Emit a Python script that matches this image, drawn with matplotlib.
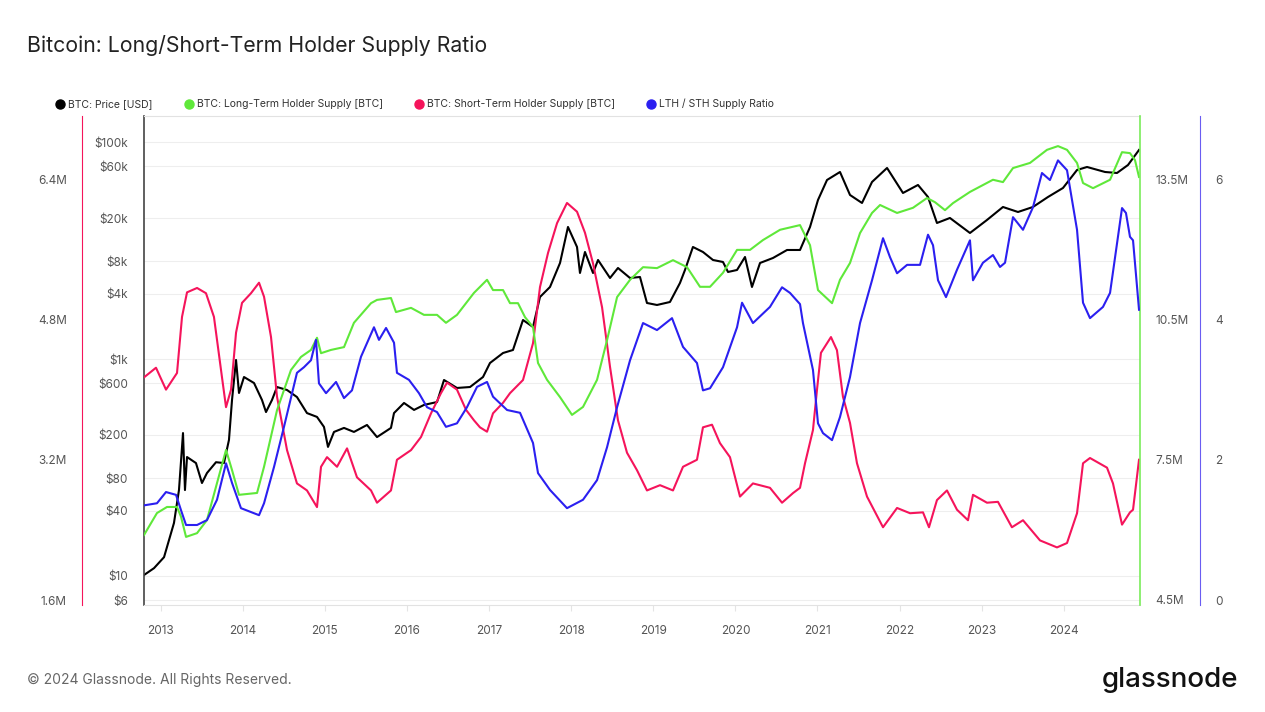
import matplotlib.pyplot as plt
from matplotlib.lines import Line2D

plt.rcParams['font.family'] = ['Inter', 'DejaVu Sans']

# data (decimal years)
price_years = [2012.797, 2012.919, 2013.041, 2013.162, 2013.223, 2013.272, 2013.296, 2013.321,
               2013.430, 2013.503, 2013.564, 2013.674, 2013.771, 2013.832, 2013.869, 2013.918,
               2013.954, 2014.015, 2014.137, 2014.234, 2014.283, 2014.356, 2014.417, 2014.539,
               2014.660, 2014.782, 2014.904, 2014.989, 2015.038, 2015.111, 2015.233, 2015.354,
               2015.513, 2015.635, 2015.805, 2015.842, 2015.964, 2016.086, 2016.207, 2016.366,
               2016.451, 2016.609, 2016.768, 2016.926, 2017.011, 2017.170, 2017.291, 2017.413,
               2017.535, 2017.620, 2017.742, 2017.864, 2017.961, 2018.071, 2018.107, 2018.168,
               2018.266, 2018.327, 2018.473, 2018.570, 2018.716, 2018.838, 2018.923, 2019.045,
               2019.203, 2019.325, 2019.386, 2019.483, 2019.605, 2019.727, 2019.849, 2019.910,
               2020.020, 2020.117, 2020.202, 2020.300, 2020.458, 2020.629, 2020.787, 2020.909,
               2021.006, 2021.116, 2021.274, 2021.396, 2021.542, 2021.664, 2021.847, 2022.041,
               2022.224, 2022.346, 2022.455, 2022.613, 2022.857, 2023.064, 2023.259, 2023.442,
               2023.624, 2023.807, 2023.990, 2024.161, 2024.283, 2024.502, 2024.648, 2024.782,
               2024.916]
price_usd = [10.2, 11.8, 14.9, 30.8, 62, 208, 62, 125,
             110, 72, 89, 112, 110, 180, 420, 982,
             487, 684, 602, 420, 325, 420, 553, 519,
             447, 318, 293, 237, 155, 213, 232, 213,
             247, 191, 232, 318, 394, 340, 378, 402,
             642, 542, 553, 684, 921, 1139, 1214, 2296,
             1979, 3742, 4629, 7706, 16557, 10825, 6230, 9732,
             6230, 8211, 5603, 6929, 5603, 5723, 3295, 3158,
             3365, 5040, 6641, 10825, 9732, 8211, 7870, 6366,
             6641, 8752, 4629, 7706, 8569, 10155, 10155, 16557,
             29375, 44920, 53230, 32660, 27560, 43050, 57970, 34080,
             40400, 31290, 18020, 20040, 14570, 19200, 25310, 22760,
             25310, 31290, 37900, 55540, 59190, 53230, 52120, 61770,
             84960]

lth_years = [2012.797, 2012.955, 2013.077, 2013.199, 2013.248, 2013.309, 2013.443, 2013.564,
             2013.686, 2013.796, 2013.869, 2013.954, 2014.174, 2014.259, 2014.417, 2014.587,
             2014.709, 2014.831, 2014.904, 2014.953, 2015.075, 2015.233, 2015.354, 2015.562,
             2015.635, 2015.805, 2015.866, 2016.049, 2016.207, 2016.366, 2016.475, 2016.609,
             2016.816, 2016.975, 2017.048, 2017.170, 2017.255, 2017.352, 2017.438, 2017.535,
             2017.596, 2017.706, 2017.864, 2018.010, 2018.144, 2018.315, 2018.437, 2018.559,
             2018.717, 2018.875, 2019.045, 2019.240, 2019.411, 2019.569, 2019.691, 2019.849,
             2020.020, 2020.178, 2020.336, 2020.544, 2020.787, 2020.909, 2021.006, 2021.177,
             2021.274, 2021.396, 2021.518, 2021.664, 2021.762, 2021.969, 2022.163, 2022.334,
             2022.431, 2022.553, 2022.650, 2022.857, 2023.137, 2023.259, 2023.381, 2023.588,
             2023.795, 2023.929, 2024.039, 2024.161, 2024.234, 2024.356, 2024.563, 2024.709,
             2024.806, 2024.867, 2024.916]
lth_supply = [5.89, 6.36, 6.49, 6.49, 6.28, 5.85, 5.93, 6.21,
              7.00, 7.71, 7.28, 6.75, 6.79, 7.35, 8.56, 9.42,
              9.70, 9.85, 10.11, 9.78, 9.85, 9.91, 10.43, 10.85,
              10.92, 10.96, 10.66, 10.75, 10.60, 10.60, 10.43, 10.60,
              11.07, 11.35, 11.13, 11.13, 10.85, 10.85, 10.55, 10.34,
              9.57, 9.21, 8.84, 8.46, 8.63, 9.21, 10.06, 10.98,
              11.35, 11.62, 11.60, 11.77, 11.62, 11.20, 11.20, 11.50,
              11.99, 11.99, 12.20, 12.42, 12.52, 12.09, 11.13, 10.85,
              11.35, 11.71, 12.35, 12.78, 12.95, 12.78, 12.89, 13.10,
              13.01, 12.84, 12.99, 13.23, 13.49, 13.44, 13.74, 13.85,
              14.13, 14.21, 14.13, 13.85, 13.42, 13.31, 13.49, 14.08,
              14.06, 13.91, 13.55]

sth_years = [2012.797, 2012.943, 2013.065, 2013.199, 2013.260, 2013.321, 2013.443, 2013.552,
             2013.649, 2013.747, 2013.796, 2013.857, 2013.918, 2013.991, 2014.100, 2014.198,
             2014.259, 2014.344, 2014.417, 2014.539, 2014.660, 2014.782, 2014.904, 2014.953,
             2015.026, 2015.148, 2015.270, 2015.391, 2015.562, 2015.635, 2015.805, 2015.878,
             2016.049, 2016.171, 2016.293, 2016.414, 2016.488, 2016.609, 2016.719, 2016.816,
             2016.889, 2016.975, 2017.048, 2017.170, 2017.255, 2017.413, 2017.535, 2017.620,
             2017.718, 2017.828, 2017.949, 2018.071, 2018.168, 2018.266, 2018.376, 2018.473,
             2018.570, 2018.680, 2018.802, 2018.923, 2019.082, 2019.240, 2019.362, 2019.532,
             2019.605, 2019.715, 2019.812, 2019.934, 2020.056, 2020.214, 2020.421, 2020.568,
             2020.702, 2020.787, 2020.848, 2020.945, 2020.994, 2021.042, 2021.164, 2021.237,
             2021.310, 2021.396, 2021.481, 2021.603, 2021.798, 2021.969, 2022.127, 2022.285,
             2022.358, 2022.455, 2022.577, 2022.699, 2022.833, 2022.894, 2023.064, 2023.198,
             2023.368, 2023.503, 2023.710, 2023.917, 2024.039, 2024.161, 2024.234, 2024.319,
             2024.526, 2024.599, 2024.709, 2024.806, 2024.843, 2024.916]
sth_supply = [4.14, 4.25, 4.00, 4.19, 4.83, 5.11, 5.16, 5.10,
              4.83, 4.14, 3.80, 4.00, 4.65, 4.99, 5.10, 5.22,
              5.06, 4.60, 3.92, 3.31, 2.93, 2.85, 2.66, 3.12,
              3.23, 3.12, 3.33, 3.00, 2.85, 2.71, 2.85, 3.20,
              3.31, 3.46, 3.73, 3.96, 4.08, 4.00, 3.77, 3.65,
              3.57, 3.52, 3.73, 3.85, 3.96, 4.11, 4.53, 5.17,
              5.56, 5.90, 6.13, 6.03, 5.79, 5.44, 4.94, 4.26,
              3.65, 3.28, 3.08, 2.85, 2.91, 2.85, 3.12, 3.20,
              3.57, 3.60, 3.39, 3.23, 2.78, 2.93, 2.88, 2.71,
              2.82, 2.88, 3.16, 3.54, 4.00, 4.42, 4.60, 4.45,
              3.92, 3.62, 3.16, 2.78, 2.43, 2.65, 2.59, 2.60,
              2.43, 2.74, 2.85, 2.63, 2.51, 2.80, 2.71, 2.72,
              2.43, 2.51, 2.28, 2.20, 2.25, 2.59, 3.16, 3.22,
              3.11, 2.93, 2.46, 2.60, 2.63, 3.20]

ratio_years = [2012.797, 2012.955, 2013.065, 2013.187, 2013.248, 2013.309, 2013.443, 2013.564,
               2013.686, 2013.796, 2013.869, 2013.978, 2014.198, 2014.259, 2014.381, 2014.502,
               2014.660, 2014.745, 2014.831, 2014.892, 2014.928, 2015.014, 2015.136, 2015.233,
               2015.330, 2015.440, 2015.598, 2015.659, 2015.745, 2015.842, 2015.878, 2016.024,
               2016.146, 2016.244, 2016.366, 2016.475, 2016.609, 2016.731, 2016.853, 2016.975,
               2017.048, 2017.219, 2017.377, 2017.535, 2017.596, 2017.742, 2017.949, 2018.144,
               2018.315, 2018.437, 2018.559, 2018.717, 2018.875, 2019.045, 2019.228, 2019.362,
               2019.532, 2019.605, 2019.691, 2019.849, 2020.020, 2020.081, 2020.214, 2020.421,
               2020.568, 2020.665, 2020.787, 2020.823, 2020.945, 2021.006, 2021.067, 2021.177,
               2021.274, 2021.396, 2021.518, 2021.664, 2021.798, 2021.883, 2021.969, 2022.091,
               2022.249, 2022.346, 2022.407, 2022.468, 2022.565, 2022.699, 2022.857, 2022.894,
               2023.015, 2023.137, 2023.223, 2023.284, 2023.381, 2023.503, 2023.624, 2023.734,
               2023.831, 2023.929, 2024.039, 2024.161, 2024.234, 2024.319, 2024.477, 2024.563,
               2024.709, 2024.757, 2024.806, 2024.843, 2024.916]
ratio_values = [1.35, 1.38, 1.54, 1.50, 1.28, 1.07, 1.07, 1.14,
                1.43, 1.95, 1.67, 1.31, 1.21, 1.38, 1.90, 2.47,
                3.24, 3.32, 3.42, 3.71, 3.09, 2.95, 3.11, 2.88,
                2.99, 3.47, 3.89, 3.71, 3.88, 3.67, 3.24, 3.14,
                2.95, 2.75, 2.68, 2.47, 2.52, 2.75, 3.04, 3.11,
                2.90, 2.71, 2.67, 2.24, 1.81, 1.57, 1.31, 1.43,
                1.71, 2.18, 2.75, 3.42, 3.95, 3.85, 4.02, 3.61,
                3.38, 2.99, 3.02, 3.32, 3.89, 4.24, 3.95, 4.18,
                4.46, 4.38, 4.22, 3.95, 3.28, 2.52, 2.38, 2.28,
                2.61, 3.18, 3.95, 4.56, 5.16, 4.89, 4.66, 4.78,
                4.78, 5.21, 5.06, 4.56, 4.32, 4.71, 5.13, 4.56,
                4.81, 4.92, 4.75, 4.81, 5.46, 5.28, 5.60, 6.09,
                5.99, 6.27, 6.13, 5.28, 4.24, 4.02, 4.18, 4.38,
                5.59, 5.52, 5.18, 5.13, 4.14]

price_ticks = [6, 10, 40, 80, 200, 600, 1000, 4000, 8000, 20000, 60000, 100000]
price_labels = ['$6', '$10', '$40', '$80', '$200', '$600', '$1k', '$4k', '$8k', '$20k', '$60k', '$100k']
sth_ticks = [1.6, 3.2, 4.8, 6.4]
lth_ticks = [4.5, 7.5, 10.5, 13.5]
ratio_ticks = [0, 2, 4, 6]
years = list(range(2013, 2025))

c_price = '#000000'
c_lth = '#5fe83a'
c_sth = '#f5145b'
c_ratio = '#2b1ff0'
tick_col = '#555555'

fig = plt.figure(figsize=(12.65, 7.12), dpi=100)
ax = fig.add_axes([144 / 1265, 1 - 605 / 712, 996 / 1265, 489 / 712])

# price axis (log) - host
ax.set_yscale('log')
ax.set_ylim(5.396, 174800)
ax.set_xlim(2012.797, 2024.928)
ax.set_yticks(price_ticks)
ax.set_yticklabels(price_labels)
ax.yaxis.set_minor_locator(plt.NullLocator())
ax.set_xticks(years)
ax.set_xticklabels([str(y) for y in years])
ax.grid(axis='y', color='#eeeeee', lw=0.8)
ax.tick_params(axis='y', length=0, pad=11.5, labelsize=8.5, labelcolor=tick_col)
ax.tick_params(axis='x', length=4.3, color='#e4e4e4', pad=10, labelsize=8.5, labelcolor=tick_col)
for s in ['top', 'bottom']:
    ax.spines[s].set_color('#e2e2e2')
ax.spines['right'].set_visible(False)
ax.spines['left'].set_color('#444444')
ax.spines['left'].set_linewidth(1.2)
ax.plot(price_years, price_usd, color=c_price, lw=1.5)

# short-term holder supply, far left
ax_sth = ax.twinx()
for s in ax_sth.spines.values():
    s.set_visible(False)
ax_sth.yaxis.tick_left()
ax_sth.spines['left'].set_visible(True)
ax_sth.spines['left'].set_position(('outward', 44.6))
ax_sth.spines['left'].set_color(c_sth)
ax_sth.set_ylim(1.543, 7.122)
ax_sth.set_yticks(sth_ticks)
ax_sth.set_yticklabels([f'{v}M' for v in sth_ticks])
ax_sth.tick_params(axis='y', length=0, pad=11, labelsize=8.5, labelcolor=tick_col)
ax_sth.plot(sth_years, sth_supply, color=c_sth, lw=1.5)

# long-term holder supply, right
ax_lth = ax.twinx()
for s in ax_lth.spines.values():
    s.set_visible(False)
ax_lth.spines['right'].set_visible(True)
ax_lth.spines['right'].set_color('#7aec5a')
ax_lth.spines['right'].set_linewidth(1.2)
ax_lth.set_ylim(4.393, 14.854)
ax_lth.set_yticks(lth_ticks)
ax_lth.set_yticklabels([f'{v}M' for v in lth_ticks])
ax_lth.tick_params(axis='y', length=0, pad=11, labelsize=8.5, labelcolor=tick_col)
ax_lth.plot(lth_years, lth_supply, color=c_lth, lw=1.5)

# ratio, far right
ax_r = ax.twinx()
for s in ax_r.spines.values():
    s.set_visible(False)
ax_r.spines['right'].set_visible(True)
ax_r.spines['right'].set_position(('outward', 43.2))
ax_r.spines['right'].set_color('#6a5cf2')
ax_r.set_ylim(-0.071, 6.903)
ax_r.set_yticks(ratio_ticks)
ax_r.set_yticklabels([str(v) for v in ratio_ticks])
ax_r.tick_params(axis='y', length=0, pad=11, labelsize=8.5, labelcolor=tick_col)
ax_r.plot(ratio_years, ratio_values, color=c_ratio, lw=1.5)

# title
fig.text(27 / 1265, 1 - 45 / 712, 'Bitcoin: Long/Short-Term Holder Supply Ratio',
         fontsize=15.3, color='#222222', va='center', ha='left')

# legend
leg_items = [('BTC: Price [USD]', c_price, 60),
             ('BTC: Long-Term Holder Supply [BTC]', c_lth, 189),
             ('BTC: Short-Term Holder Supply [BTC]', c_sth, 419),
             ('LTH / STH Supply Ratio', c_ratio, 651)]
ly = 1 - 104 / 712
for label, col, xp in leg_items:
    fig.add_artist(Line2D([xp / 1265], [ly], marker='o', markersize=6.5,
                          color=col, transform=fig.transFigure))
    fig.text((xp + 8) / 1265, ly, label, fontsize=7.5, color='#333333', va='center', ha='left')

# footer
fig.text(27 / 1265, 1 - 680 / 712, '© 2024 Glassnode. All Rights Reserved.',
         fontsize=10, color='#666666', va='center', ha='left')
fig.text(1238 / 1265, 1 - 680 / 712, 'glassnode', fontsize=20, color='#111111',
         va='center', ha='right', fontweight='medium')

fig.savefig('out.png', dpi=100)
